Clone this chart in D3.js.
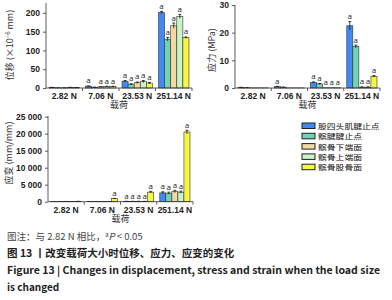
<!DOCTYPE html>
<html lang="zh">
<head>
<meta charset="UTF-8">
<title>Figure 13</title>
<script src="https://d3js.org/d3.v7.min.js"></script>
<style>
  body { margin: 0; background: #fff; }
  svg { display: block; font-family: "Open Sans", "Noto Sans", sans-serif; }
  .tick text { font-size: 8.5px; fill: #222; font-weight: 600; }
  .axis path, .axis line { stroke: #333; stroke-width: 0.8px; }
  .ylab, .xlab { font-family: "Noto Sans CJK SC", sans-serif; font-size: 9px; fill: #333; }
  .sig { font-size: 8px; fill: #222; text-anchor: middle; }
  .leg { font-family: "Noto Sans CJK SC", serif; font-size: 7px; fill: #111; }
  .cap { font-family: "Noto Sans CJK SC", sans-serif; }
</style>
</head>
<body>
<svg id="fig" width="392" height="300"></svg>
<script>
// categories and series
var loads = ["2.82 N", "7.06 N", "23.53 N", "251.14 N"];
var sites = ["股四头肌腱止点", "髌腱腱止点", "髌骨下端面", "髌骨上端面", "髌骨股骨面"];
var colors = ["#4189f5", "#6fd4b4", "#f2d9a2", "#c9f3c9", "#f7f740"];

// displacement (x10^-6 mm), one row per load, one column per site
var dispValues = [[1.5, 0.5, 0.5, 1.5, 1], [5, 2, 3, 4, 4], [18, 10, 14, 17, 13], [201, 130, 166, 191, 134]];
var dispErrors = [[0.3, 0.2, 0.2, 0.3, 0.2], [0.5, 0.3, 0.4, 0.5, 0.5], [2, 1.5, 2, 3, 2], [3, 5, 7, 5, 2]];
var dispSig = [[0, 0, 0, 0, 0], [1, 0, 1, 1, 1], [1, 1, 1, 1, 1], [1, 1, 1, 1, 1]];

// stress (MPa)
var stressValues = [[0.2, 0.1, 0.05, 0.05, 0.05], [0.5, 0.3, 0.05, 0.05, 0.05], [2.0, 1.5, 0.1, 0.1, 0.1], [22.5, 15, 0.3, 0.3, 4.2]];
var stressErrors = [[0.05, 0.05, 0, 0, 0], [0.1, 0.05, 0, 0, 0], [0.2, 0.15, 0, 0, 0], [1.5, 0.5, 0.1, 0.1, 0.3]];
var stressSig = [[0, 0, 0, 0, 0], [1, 0, 0, 0, 0], [1, 1, 1, 1, 1], [1, 1, 1, 1, 1]];

// strain (mm/mm)
var strainValues = [[10, 10, 10, 10, 100], [10, 10, 10, 10, 900], [100, 100, 100, 100, 2800], [2600, 2500, 3000, 2800, 20500]];
var strainErrors = [[0, 0, 0, 0, 20], [0, 0, 0, 0, 80], [20, 20, 20, 20, 250], [300, 300, 350, 300, 500]];
var strainSig = [[0, 0, 0, 0, 0], [0, 0, 0, 0, 1], [1, 1, 1, 1, 1], [1, 1, 1, 1, 1]];

var dispTicks = [0, 50, 100, 150, 200];
var stressTicks = [0, 10, 20, 30];
var strainTicks = [0, 5000, 10000, 15000, 20000, 25000];

var svg = d3.select("#fig");
var spaced = d3.formatLocale({decimal: ".", thousands: " ", grouping: [3], currency: ["", ""]}).format(",");

function drawChart(cfg) {
  var g = svg.append("g");
  var x = d3.scaleBand().domain(loads).range([cfg.x0, cfg.x1]);
  var xi = d3.scaleBand().domain(d3.range(sites.length)).range([0, x.bandwidth()]).paddingOuter(0.5).paddingInner(0);
  var y = d3.scaleLinear().domain(cfg.domain).range([cfg.y0, cfg.y1]);

  // bars
  loads.forEach(function(load, li) {
    var grp = g.append("g").attr("transform", "translate(" + x(load) + ",0)");
    sites.forEach(function(s, si) {
      var v = cfg.values[li][si], e = cfg.errors[li][si];
      var bx = xi(si), bw = xi.bandwidth();
      grp.append("rect")
        .attr("x", bx).attr("y", y(v))
        .attr("width", bw).attr("height", y(0) - y(v))
        .attr("fill", colors[si]).attr("stroke", "#333").attr("stroke-width", 0.6);
      if (e > 0) {
        var cx = bx + bw / 2;
        grp.append("line").attr("x1", cx).attr("x2", cx).attr("y1", y(v + e)).attr("y2", y(Math.max(0, v - e)))
          .attr("stroke", "#111").attr("stroke-width", 0.8);
        grp.append("line").attr("x1", cx - 1.5).attr("x2", cx + 1.5).attr("y1", y(v + e)).attr("y2", y(v + e))
          .attr("stroke", "#111").attr("stroke-width", 0.8);
      }
      if (cfg.sig[li][si]) {
        grp.append("text").attr("class", "sig")
          .attr("x", bx + bw / 2).attr("y", y(v + e) - 2.5).text("a");
      }
    });
  });

  // y axis
  var ya = g.append("g").attr("class", "axis").attr("transform", "translate(" + cfg.x0 + ",0)")
    .call(d3.axisLeft(y).tickValues(cfg.ticks).tickSize(3).tickPadding(3).tickFormat(cfg.fmt || d3.format("d")));
  ya.select(".domain").attr("d", "M0," + cfg.y0 + "V" + cfg.yTop);

  // x axis
  var xa = g.append("g").attr("class", "axis").attr("transform", "translate(0," + cfg.y0 + ")")
    .call(d3.axisBottom(x).tickSize(0).tickPadding(5));
  xa.select(".domain").attr("d", "M" + cfg.x0 + ",0H" + cfg.x1);
  xa.selectAll(".bound").data(loads.slice(1).concat([null])).enter().append("line")
    .attr("x1", function(d) { return d ? x(d) : cfg.x1; })
    .attr("x2", function(d) { return d ? x(d) : cfg.x1; })
    .attr("y1", 0).attr("y2", 3).attr("stroke", "#333").attr("stroke-width", 0.8);

  // axis titles
  g.append("text").attr("class", "xlab").attr("text-anchor", "middle")
    .attr("x", (cfg.x0 + cfg.x1) / 2).attr("y", cfg.y0 + 20).text("载荷");
  var yl = g.append("text").attr("class", "ylab").attr("text-anchor", "middle")
    .attr("transform", "translate(" + cfg.ylx + "," + cfg.yly + ") rotate(-90)");
  yl.append("tspan").text(cfg.ylabel);
  if (cfg.ysup) {
    yl.append("tspan").attr("dy", -3).attr("font-size", 6).text(cfg.ysup);
    yl.append("tspan").attr("dy", 3).text(cfg.ytail);
  }
}

drawChart({x0: 46, x1: 192, y0: 88, y1: 3.5, yTop: 3, domain: [0, 225], ticks: dispTicks,
  values: dispValues, errors: dispErrors, sig: dispSig,
  ylabel: "位移 (×10", ysup: "−6", ytail: " mm)", ylx: 13, yly: 45});
drawChart({x0: 235, x1: 380, y0: 88, y1: 5, yTop: 5, domain: [0, 30], ticks: stressTicks,
  values: stressValues, errors: stressErrors, sig: stressSig,
  ylabel: "应力 (MPa)", ylx: 215, yly: 50});
drawChart({x0: 48, x1: 193, y0: 201.7, y1: 116.7, yTop: 116, domain: [0, 25000], ticks: strainTicks,
  values: strainValues, errors: strainErrors, sig: strainSig, fmt: spaced,
  ylabel: "应变 (mm/mm)", ylx: 12, yly: 153});

// legend
var leg = svg.append("g").attr("transform", "translate(302,123)");
sites.forEach(function(s, i) {
  leg.append("rect").attr("x", 0).attr("y", i * 10.3).attr("width", 13).attr("height", 5.5)
    .attr("fill", colors[i]).attr("stroke", "#222").attr("stroke-width", 1);
  leg.append("text").attr("class", "leg").attr("x", 16).attr("y", i * 10.3 + 6)
    .attr("textLength", s.length * 8.8).attr("lengthAdjust", "spacingAndGlyphs").text(s);
});

// caption
var c1 = svg.append("text").attr("class", "cap").attr("x", 7).attr("y", 240)
  .attr("font-size", 9.5).attr("fill", "#444");
c1.append("tspan").text("图注：与 2.82 N 相比，");
c1.append("tspan").attr("font-size", 6).attr("dy", -3).text("a");
c1.append("tspan").attr("dy", 3).attr("font-style", "italic").text("P");
c1.append("tspan").text(" < 0.05");

svg.append("text").attr("class", "cap").attr("x", 7).attr("y", 257)
  .attr("font-size", 10.5).attr("fill", "#222").attr("font-weight", 600)
  .text("图 13 丨改变载荷大小时位移、应力、应变的变化");
svg.append("text").attr("class", "cap").attr("x", 7).attr("y", 274)
  .attr("font-size", 10).attr("font-weight", "bold").attr("fill", "#222")
  .attr("textLength", 373).attr("lengthAdjust", "spacingAndGlyphs")
  .text("Figure 13  |  Changes in displacement, stress and strain when the load size");
svg.append("text").attr("class", "cap").attr("x", 7).attr("y", 291)
  .attr("font-size", 10).attr("font-weight", "bold").attr("fill", "#222")
  .text("is changed");
</script>
</body>
</html>
